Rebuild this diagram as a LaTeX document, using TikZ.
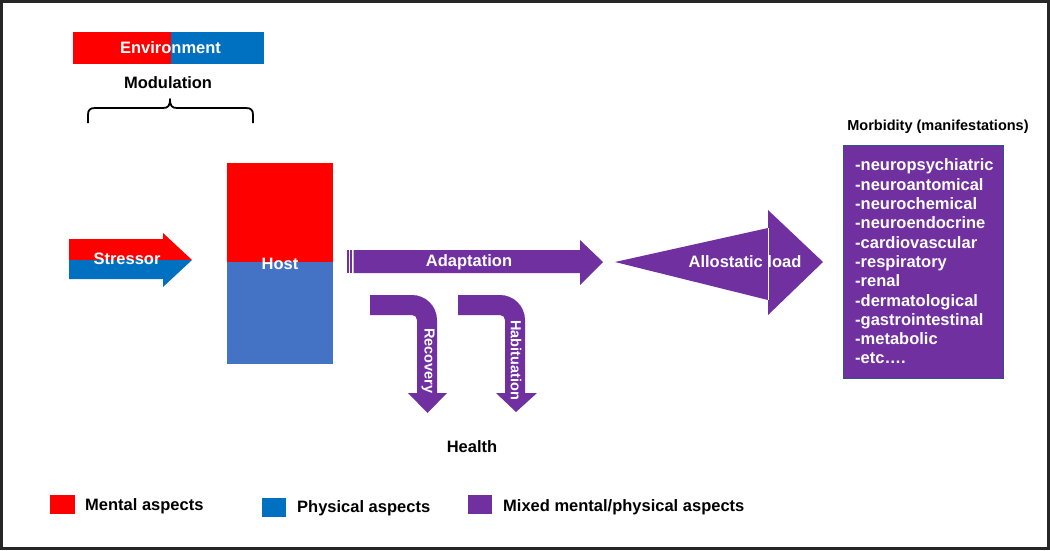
\documentclass[tikz,border=0pt]{standalone}
\usepackage{fontspec}
\setmainfont{Liberation Sans}
\definecolor{cred}{HTML}{FF0000}
\definecolor{cblue}{HTML}{0070C0}
\definecolor{hblue}{HTML}{4472C4}
\definecolor{cpurp}{HTML}{7030A0}
\definecolor{bord}{HTML}{2F528F}
\begin{document}
\begin{tikzpicture}[x=1pt,y=-1pt,
  lbl/.style={font=\fontsize{16.5}{19.3}\selectfont\bfseries, inner sep=0pt},
  wlbl/.style={lbl,text=white},
  vlbl/.style={font=\fontsize{14.5}{17}\selectfont\bfseries,text=white,inner sep=0pt,rotate=-90}]
\useasboundingbox (0,0) rectangle (1050,550);
\draw[line width=3pt,black!85] (1.5,1.5) rectangle (1048.5,548.5);

% Environment
\fill[cred] (73,32) rectangle (171,64);
\fill[cblue] (171,32) rectangle (264,64);
\node[wlbl] (env) at (170.5,48) {Environment};
\node[lbl] (mod) at (168,83) {Modulation};
\draw[line width=1.8pt, line join=round] (88,123) -- (88,115) .. controls (88,110) and (90,108) .. (95,108) -- (163,108) .. controls (168,108) and (170,106) .. (170,99) .. controls (170,106) and (172,108) .. (177,108) -- (246,108) .. controls (251,108) and (253,110) .. (253,115) -- (253,123);

% Stressor
\fill[cred] (69,239) -- (163,239) -- (163,233) -- (192,260) -- (69,260) -- cycle;
\fill[cblue] (69,260) -- (192,260) -- (163,287) -- (163,279) -- (69,279) -- cycle;
\node[wlbl] (stressor) at (127,259) {Stressor};

% Host
\fill[cred] (227,163) rectangle (333,262);
\fill[hblue] (227,262) rectangle (333,364);
\node[wlbl] (host) at (280,264) {Host};

% Adaptation
\fill[cpurp] (347,250) rectangle (348.7,273);
\fill[cpurp] (350.3,250) rectangle (352,273);
\fill[cpurp] (353.6,250) -- (580,250) -- (580,240) -- (603,262) -- (580,285) -- (580,273) -- (353.6,273) -- cycle;
\node[wlbl] (adapt) at (469,262) {Adaptation};

% Allostatic load
\fill[cpurp] (615,262) -- (768,228) -- (768,210) -- (823,262) -- (768,315) -- (768,300) -- cycle;
\draw[white, line width=0.6pt] (768,228) -- (768,300);
\node[wlbl] (allo) at (745,262) {Allostatic load};

% Recovery
\fill[cpurp] (370,295) -- (412,295) arc[start angle=-90,end angle=0,radius=25] -- (437,393) -- (447,393) -- (427.5,413) -- (408,393) -- (417,393) -- (417,320) arc[start angle=0,end angle=-90,radius=5] -- (370,315) -- cycle;
\node[vlbl] (recov) at (428,361) {Recovery};

% Habituation
\fill[cpurp] (458,295) -- (500,295) arc[start angle=-90,end angle=0,radius=25] -- (525,393) -- (537,393) -- (516,412) -- (496,393) -- (505,393) -- (505,320) arc[start angle=0,end angle=-90,radius=5] -- (458,315) -- cycle;
\node[vlbl] (habit) at (516,360) {Habituation};

\node[lbl] (health) at (472,447) {Health};

% Morbidity
\node[font=\fontsize{14.5}{17}\selectfont\bfseries, inner sep=0pt] (mtitle) at (938,127) {Morbidity (manifestations)};
\filldraw[fill=cpurp, draw=bord, line width=0.8pt] (843,145) rectangle (1003,378);
\node[wlbl, align=left, anchor=west] (list) at (855,261.5) {-neuropsychiatric\\-neuroantomical\\-neurochemical\\-neuroendocrine\\-cardiovascular\\-respiratory\\-renal\\-dermatological\\-gastrointestinal\\-metabolic\\-etc\dots.};

% Legend
\fill[cred] (50,495) rectangle (75,514);
\node[lbl, anchor=west] (lmental) at (85,506) {Mental aspects};
\fill[cblue] (262,498) rectangle (286,517);
\node[lbl, anchor=west] (lphys) at (297,508) {Physical aspects};
\fill[cpurp] (468,495) rectangle (492,514);
\node[lbl, anchor=west] (lmixed) at (503,507) {Mixed mental/physical aspects};
\end{tikzpicture}
\end{document}
